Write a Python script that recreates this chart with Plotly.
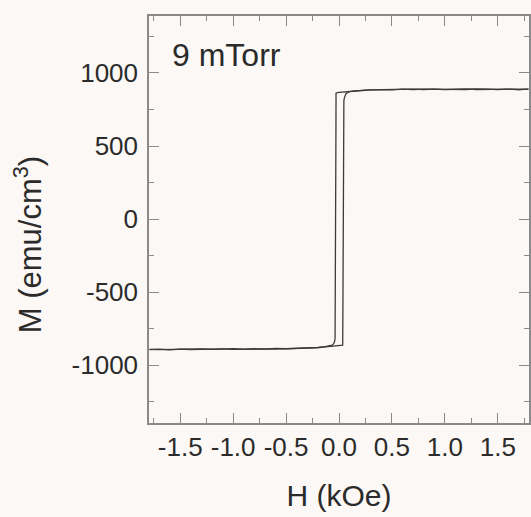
import plotly.graph_objects as go

# Hysteresis loop M(H) for the film sputtered at 9 mTorr
# Descending branch: field swept from +H_max to -H_max
h_down = [1.79, 1.70, 1.60, 1.50, 1.40, 1.30, 1.20, 1.10, 1.00, 0.90, 0.80,
          0.70, 0.60, 0.50, 0.40, 0.30, 0.25, 0.20, 0.15, 0.10, 0.06, 0.03,
          0.00, -0.015, -0.025, -0.028, -0.029, -0.030, -0.031, -0.032,
          -0.034, -0.037, -0.042, -0.050, -0.065, -0.09, -0.13, -0.20, -0.30,
          -0.40, -0.50, -0.60, -0.70, -0.80, -0.90, -1.00, -1.10, -1.20,
          -1.30, -1.40, -1.50, -1.60, -1.70, -1.79]
m_down = [889, 887, 890, 886, 889, 891, 887, 888, 890, 886, 889,
          887, 890, 885, 887, 884, 882, 880, 879, 876, 873, 870,
          868, 866, 864, 862, 600, 250, -150, -500,
          -760, -815, -838, -852, -862, -868, -873, -878, -882,
          -885, -887, -884, -889, -887, -890, -886, -889, -891,
          -888, -890, -892, -889, -893, -891]

# Ascending branch: field swept from -H_max back to +H_max
h_up = [-1.79, -1.70, -1.60, -1.50, -1.40, -1.30, -1.20, -1.10, -1.00,
        -0.90, -0.80, -0.70, -0.60, -0.50, -0.40, -0.30, -0.20, -0.15,
        -0.10, -0.06, -0.03, 0.00, 0.02, 0.030, 0.035, 0.037, 0.038,
        0.039, 0.040, 0.041, 0.043, 0.046, 0.050, 0.056, 0.065, 0.08,
        0.10, 0.15, 0.20, 0.30, 0.40, 0.50, 0.60, 0.70, 0.80, 0.90,
        1.00, 1.10, 1.20, 1.30, 1.40, 1.50, 1.60, 1.70, 1.79]
m_up = [-893, -890, -894, -889, -892, -890, -893, -888, -891,
        -889, -892, -888, -890, -887, -889, -884, -880, -876,
        -873, -869, -867, -866, -865, -864, -863, -600, -200,
        200, 550, 720, 780, 808, 828, 845, 857, 866,
        872, 878, 881, 884, 886, 888, 885, 889, 887, 890,
        886, 889, 891, 887, 889, 886, 890, 887, 889]

x_ticks = [-1.5, -1.0, -0.5, 0.0, 0.5, 1.0, 1.5]
x_tick_text = ["-1.5", "-1.0", "-0.5", "0.0", "0.5", "1.0", "1.5"]
y_ticks = [-1000, -500, 0, 500, 1000]
y_tick_text = ["-1000", "-500", "0", "500", "1000"]

bg = "#fbf8f5"
ink = "#2b2b2b"
axis_col = "#8a8a8a"
font = "Liberation Sans, Arial, sans-serif"

fig = go.Figure()
for hx, my in ((h_down, m_down), (h_up, m_up)):
    fig.add_trace(go.Scatter(x=hx, y=my, mode="lines",
                             line=dict(color="#3c3c3c", width=1.3),
                             showlegend=False, hoverinfo="skip"))

axis_common = dict(
    showgrid=False, zeroline=False, showline=True, linecolor=axis_col,
    linewidth=1.5, mirror="ticks", ticks="inside", tickcolor=axis_col,
    tickwidth=1.3, ticklen=10,
    tickfont=dict(family=font, size=26, color=ink),
)

fig.update_xaxes(range=[-1.795, 1.795], tickvals=x_ticks, ticktext=x_tick_text,
                 minor=dict(dtick=0.25, tick0=0, ticks="inside", ticklen=5,
                            tickcolor=axis_col, tickwidth=1.2),
                 title=dict(text="H (kOe)", font=dict(family=font, size=30, color=ink),
                            standoff=24),
                 **axis_common)
fig.update_yaxes(range=[-1395, 1390], tickvals=y_ticks, ticktext=y_tick_text,
                 minor=dict(dtick=250, tick0=0, ticks="inside", ticklen=5,
                            tickcolor=axis_col, tickwidth=1.2),
                 ticklabelstandoff=4,
                 **axis_common)

fig.add_annotation(text="M (emu/cm<sup>3</sup>)", xref="paper", yref="paper",
                   x=-0.318, y=0.437, showarrow=False, textangle=-90,
                   font=dict(family=font, size=31, color=ink),
                   xanchor="center", yanchor="middle")
fig.add_annotation(text="9 mTorr", xref="paper", yref="paper",
                   x=0.055, y=0.903, showarrow=False,
                   font=dict(family=font, size=32, color=ink),
                   xanchor="left", yanchor="middle")

fig.update_layout(width=531, height=517,
                  margin=dict(l=149, r=0, t=16, b=94),
                  paper_bgcolor=bg, plot_bgcolor=bg)

fig.write_html("out.html")
